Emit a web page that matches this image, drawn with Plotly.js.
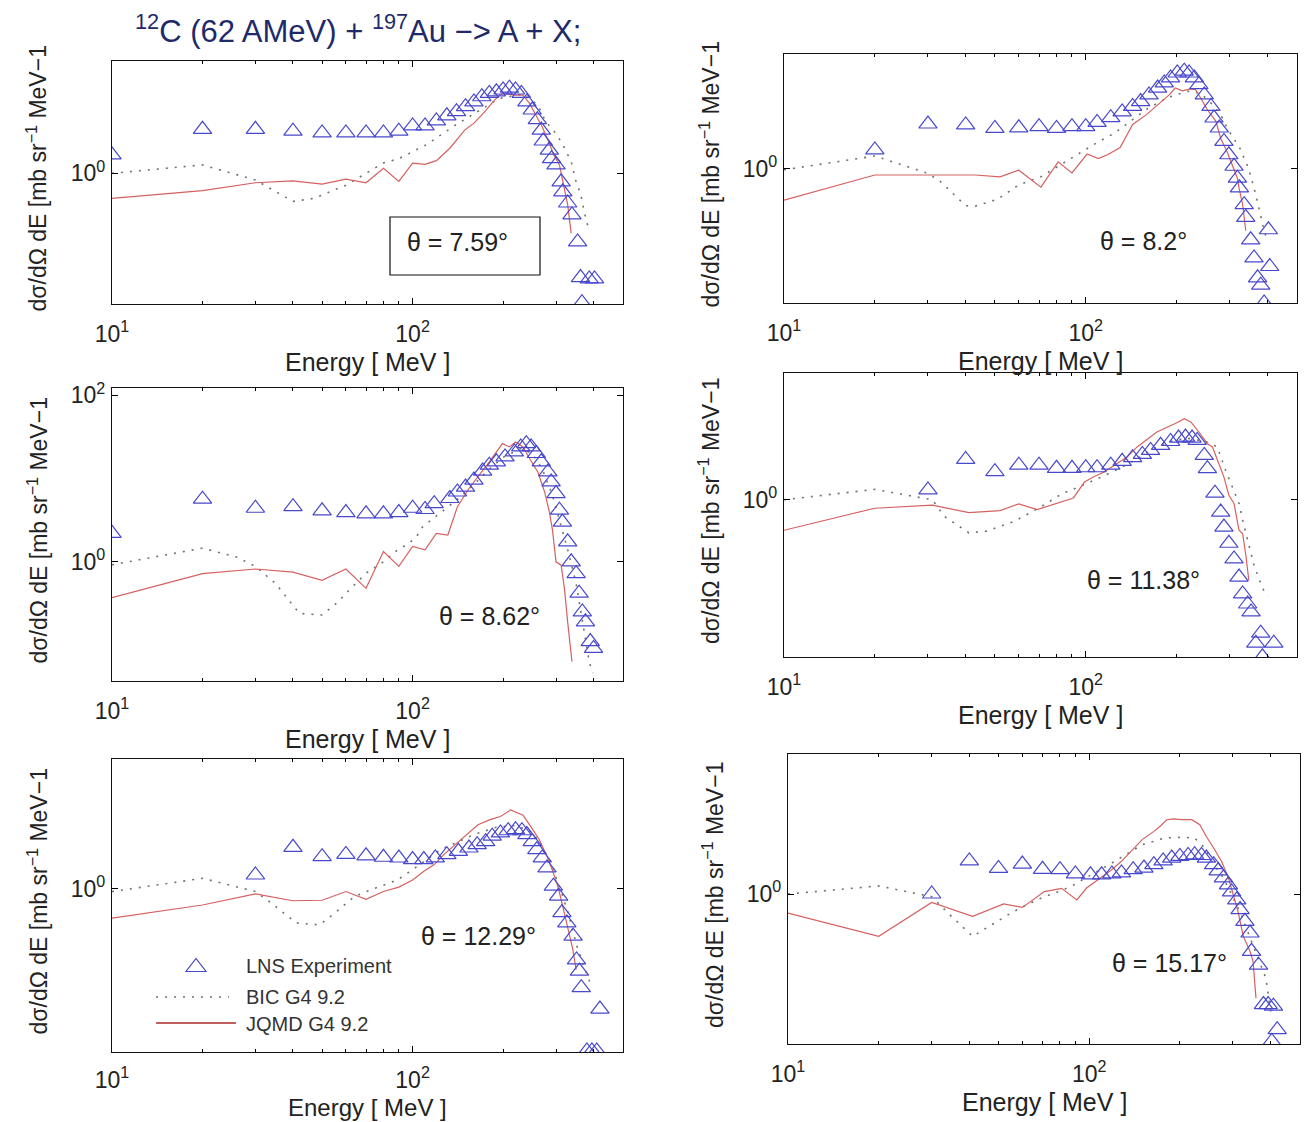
<!DOCTYPE html>
<html>
<head>
<meta charset="utf-8">
<script src="https://cdn.plot.ly/plotly-3.0.1.min.js"></script>
<style>html,body{margin:0;padding:0;background:#fff;}#chart{width:1306px;height:1122px;}</style>
</head>
<body>
<div id="chart"></div>
<script>
// ---------------- DATA ----------------
// Panel 1 : theta = 7.59 deg
const p1ExpE = [10,20,30,40,50,60,70,80,90,100,110,120,130,140,150,160,170,180,190,200,210,220,230,240,250,260,268,272,285,290,300,312,316,328,339,354,362,366,387,403];
const p1Exp  = [1.66,3.37,3.37,3.2,3.05,3.05,3.05,3.05,3.2,3.7,3.7,4.25,4.9,5.5,6.3,7.2,8.3,9.1,9.5,10.0,10.5,10.0,9.1,7.2,5.75,4.4,3.3,2.44,1.9,1.5,1.26,0.79,0.6,0.44,0.316,0.15,0.056,0.028,0.054,0.054];
const p1BicE = [10,20,30,40,47,60,70,80,90,111,139,171,194,233,261,277,300,316,337,350,363,372,387];
const p1Bic  = [1.0,1.26,0.83,0.46,0.5,0.72,1.0,1.33,1.5,2.2,3.8,6.0,7.9,8.9,6.6,4.2,3.0,2.2,1.38,0.79,0.55,0.35,0.2];
const p1JqmdE = [10,20,30,40,50,60,70,80,90,100,110,120,133,149,160,174,185,195,201,218,233,245,257,270,285,295,308,320,328,337];
const p1Jqmd  = [0.5,0.62,0.77,0.81,0.74,0.85,0.77,1.15,0.8,1.32,1.28,1.42,2.0,3.3,4.0,5.5,7.2,8.7,9.1,8.7,8.7,6.9,5.0,3.6,2.3,1.66,1.26,0.66,0.42,0.19];

// Panel 2 : theta = 8.2 deg
const p2ExpE = [20,30,40,50,60,70,80,90,100,109,121,132,143,152,162,173,182,191,201,212,220,229,237,247,260,266,277,287,298,310,318,323,335,339,352,361,371,380,390,403,407];
const p2Exp  = [1.68,3.44,3.35,3.05,3.1,3.2,3.05,3.2,3.2,3.6,4.1,4.8,5.6,6.4,7.7,9.3,10.7,12.3,14.1,14.8,14.1,12.3,10.2,7.7,5.6,4.06,3.08,2.13,1.47,1.07,0.77,0.59,0.37,0.26,0.14,0.085,0.049,0.04,0.0245,0.185,0.067];
const p2BicE = [10,20,30,33,40,43,51,60,71,81,90,106,125,158,186,217,240,263,280,294,310,324,346,366,386,398];
const p2Bic  = [0.97,1.42,0.88,0.7,0.36,0.355,0.43,0.64,0.8,1.06,1.35,1.94,2.7,5.1,7.1,8.5,8.1,5.9,4.46,3.08,2.3,1.77,1.02,0.49,0.21,0.14];
const p2JqmdE = [10,20,30,43,52,60,71,81,90,101,110,118,130,143,159,177,189,198,209,222,231,240,253,270,280,294,306,318,322,331,339];
const p2Jqmd  = [0.42,0.84,0.84,0.84,0.8,0.96,0.6,1.21,0.89,1.5,1.32,1.47,1.8,3.4,4.46,6.2,7.7,9.3,8.6,9.1,8.9,7.1,5.1,3.7,2.3,1.6,1.12,0.77,0.59,0.37,0.18];

// Panel 3 : theta = 8.62 deg
const p3ExpE = [10,20,30,40,50,60,70,80,90,100,110,118,133,141,150,160,171,180,190,203,218,229,239,248,258,268,282,289,300,308,315,328,337,350,358,367,376,390,400];
const p3Exp  = [2.2,5.66,4.4,4.6,4.1,3.9,3.77,3.77,3.9,4.4,4.25,5.0,5.76,6.9,7.9,9.6,12.3,14.5,15.9,18.2,20.9,24,26.3,24,20,15.9,12,9.1,6.6,4.17,3.0,1.74,1.0,0.72,0.42,0.25,0.19,0.11,0.091];
const p3BicE = [10,20,26,30,35,42,50,56,63,70,80,89,97,103,108,115,123,140,160,180,200,230,250,270,292,310,330,350,363,372,387,397];
const p3Bic  = [0.92,1.46,1.14,0.88,0.55,0.24,0.23,0.32,0.5,0.73,1.0,1.38,1.66,2.0,2.63,3.16,3.8,5.5,8.5,13,18,23,20,13,6.3,3.0,1.3,0.55,0.25,0.145,0.063,0.046];
const p3JqmdE = [10,20,30,40,50,60,70,80,90,100,110,120,131,141,154,167,180,199,210,220,233,245,261,275,285,292,300,312,320,328,339];
const p3Jqmd  = [0.37,0.72,0.82,0.75,0.6,0.82,0.48,1.33,0.88,1.53,1.39,2.2,2.1,4.6,7.6,11,15.9,26.3,24,27.5,24,17.4,12,6.9,4.0,2.4,1.0,0.91,0.48,0.19,0.063];

// Panel 4 : theta = 11.38 deg
const p4ExpE = [30,40,50,60,70,80,90,100,109,121,132,143,154,164,177,191,203,214,225,234,247,253,268,280,287,298,310,322,331,344,353,366,380,385,420];
const p4Exp  = [1.31,3.05,2.17,2.6,2.6,2.38,2.38,2.42,2.42,2.6,2.89,3.2,3.5,3.9,4.5,5.0,5.5,5.65,5.5,5.15,3.4,2.36,1.2,0.71,0.47,0.3,0.195,0.118,0.074,0.056,0.045,0.019,0.025,0.013,0.019];
const p4BicE = [10,20,31,34,41,47,58,71,84,92,110,130,150,170,190,215,250,273,290,310,322,333,347,360,380,398];
const p4Bic  = [1.0,1.33,1.0,0.63,0.4,0.42,0.55,0.82,1.2,1.36,1.8,2.4,3.2,4.2,5.0,5.5,5.0,4.3,2.3,1.3,0.9,0.52,0.3,0.17,0.098,0.068];
const p4JqmdE = [10,20,31,41,52,60,69,82,91,99,106,115,125,137,148,160,172,186,198,212,223,237,253,263,277,287,298,310,322,331,339,347];
const p4Jqmd  = [0.43,0.79,0.86,0.7,0.74,0.89,0.76,0.94,1.05,1.63,1.87,2.15,2.6,3.25,4.3,5.4,6.5,7.4,8.2,9.4,8.6,6.5,4.7,4.3,2.7,1.87,1.13,0.9,0.43,0.39,0.22,0.108];

// Panel 5 : theta = 12.29 deg
const p5ExpE = [30,40,50,60,70,80,90,100,109,119,130,142,154,164,175,184,196,208,220,231,240,250,259,270,280,294,306,314,326,342,351,359,364,380,395,410,420];
const p5Exp  = [1.47,3.16,2.44,2.6,2.5,2.4,2.35,2.25,2.25,2.36,2.58,2.83,3.1,3.4,3.7,4.3,4.7,5.0,5.15,5.0,4.5,3.7,2.96,2.36,1.79,1.08,0.82,0.52,0.39,0.27,0.14,0.103,0.065,0.0113,0.0113,0.0113,0.036];
const p5BicE = [10,20,30,34,41,49,55,64,74,89,100,124,160,190,220,250,270,290,310,330,350,370,390];
const p5Bic  = [0.93,1.34,0.93,0.67,0.39,0.37,0.51,0.81,1.0,1.28,1.7,2.96,4.5,5.5,5.8,4.8,3.2,1.9,1.0,0.5,0.22,0.12,0.074];
const p5JqmdE = [10,20,30,40,50,60,70,80,90,100,109,118,127,141,154,165,181,196,212,222,233,249,264,280,294,306,318,331,341,350];
const p5Jqmd  = [0.445,0.64,0.87,0.72,0.73,0.93,0.75,0.93,1.05,1.28,1.63,1.96,2.58,3.56,4.7,5.9,6.8,7.4,8.9,8.3,7.7,5.4,3.9,2.47,1.56,1.0,0.56,0.32,0.19,0.107];

// Panel 6 : theta = 15.17 deg
const p6ExpE = [30,40,50,60,70,80,90,101,110,119,128,140,152,164,176,188,200,213,224,236,245,259,268,279,290,297,309,317,329,342,346,365,379,393,404,409,421];
const p6Exp  = [1.0,2.5,2.03,2.29,1.98,1.96,1.74,1.7,1.7,1.74,1.79,1.96,2.05,2.25,2.5,2.7,2.83,2.9,2.96,2.9,2.7,2.25,1.9,1.56,1.29,1.06,0.85,0.65,0.47,0.34,0.205,0.14,0.047,0.047,0.017,0.045,0.0235];
const p6BicE = [10,20,30,34,41,46,55,61,71,81,89,119,150,178,203,224,242,259,275,290,320,342,386,404];
const p6Bic  = [1.0,1.25,0.93,0.59,0.31,0.4,0.59,0.72,0.93,1.1,1.29,2.36,3.9,4.7,4.8,4.7,3.57,2.25,1.7,1.18,0.56,0.3,0.098,0.032];
const p6JqmdE = [10,20,30,41,52,60,71,81,91,98,107,117,128,139,150,164,172,181,191,203,219,233,245,259,275,290,301,312,325,342,350,358];
const p6Jqmd  = [0.59,0.31,0.79,0.54,0.76,0.69,1.07,1.17,0.85,1.18,1.48,1.87,2.47,3.4,4.5,5.65,6.5,7.8,8.0,7.8,7.8,6.8,4.9,3.57,2.47,1.56,1.0,0.62,0.31,0.205,0.155,0.056];

const thetaLabels = ['θ = 7.59°','θ = 8.2°','θ = 8.62°','θ = 11.38°','θ = 12.29°','θ = 15.17°'];
const xTickVals = [10,100];
const xTickText = ['10<sup>1</sup>','10<sup>2</sup>'];
const xMinorVals = [20,30,40,50,60,70,80,90,200,300,400];
const legendNames = ['LNS Experiment','BIC G4 9.2','JQMD G4 9.2'];
const titleText = '<sup>12</sup>C (62 AMeV) + <sup>197</sup>Au −> A + X;';
const xTitle = 'Energy [ MeV ]';
const yTitle = 'dσ/dΩ dE [mb sr<sup>−1</sup> MeV−1';

// ---------------- LAYOUT GEOMETRY (pixels) ----------------
const W = 1306, H = 1122;
const FONT = 'Liberation Sans, Arial, Helvetica, sans-serif';
const px = x => x / W;
const py = y => 1 - y / H;

const panels = [
  {E:p1ExpE, v:p1Exp, bE:p1BicE, b:p1Bic, jE:p1JqmdE, j:p1Jqmd, box:[112,623,61,304],  yr:[-1.569,1.348], yt:[1],     tpos:[458,242],  xt:362,  xs:25},
  {E:p2ExpE, v:p2Exp, bE:p2BicE, b:p2Bic, jE:p2JqmdE, j:p2Jqmd, box:[784,1297,54,303], yr:[-1.612,1.377], yt:[1],     tpos:[1143,241], xt:361,  xs:25},
  {E:p3ExpE, v:p3Exp, bE:p3BicE, b:p3Bic, jE:p3JqmdE, j:p3Jqmd, box:[112,623,388,681], yr:[-1.432,2.088], yt:[1,100], tpos:[489,616],  xt:739,  xs:25},
  {E:p4ExpE, v:p4Exp, bE:p4BicE, b:p4Bic, jE:p4JqmdE, j:p4Jqmd, box:[784,1297,373,657],yr:[-1.888,1.521], yt:[1],     tpos:[1143,580], xt:715,  xs:25},
  {E:p5ExpE, v:p5Exp, bE:p5BicE, b:p5Bic, jE:p5JqmdE, j:p5Jqmd, box:[112,623,759,1052],yr:[-1.960,1.561], yt:[1],     tpos:[478,936],  xt:1107, xs:24},
  {E:p6ExpE, v:p6Exp, bE:p6BicE, b:p6Bic, jE:p6JqmdE, j:p6Jqmd, box:[788,1300,754,1044],yr:[-1.801,1.681], yt:[1],     tpos:[1169,963], xt:1102, xs:25}
];

const traces = [];
const layout = {
  width: W, height: H,
  margin: {l:0, r:0, t:0, b:0, pad:0},
  paper_bgcolor: '#fff', plot_bgcolor: '#fff',
  showlegend: false,
  font: {family: FONT, color: '#222'},
  annotations: [], shapes: []
};

panels.forEach((p, i) => {
  const k = i + 1;
  const xs = k === 1 ? 'x' : 'x' + k;
  const ys = k === 1 ? 'y' : 'y' + k;
  const [l, r, t, b] = p.box;
  layout[k === 1 ? 'xaxis' : 'xaxis' + k] = {
    type: 'log', range: [1, 2.7], domain: [px(l), px(r)], anchor: ys,
    tickvals: xTickVals, ticktext: xTickText,
    ticks: 'inside', ticklen: 6, tickwidth: 1, tickcolor: '#000',
    showline: true, linecolor: '#111', linewidth: 1.2, mirror: 'ticks',
    showgrid: false, zeroline: false,
    tickfont: {family: FONT, size: 23, color: '#222'},
    ticklabelstandoff: k === 5 ? 7 : 9,
    minor: {tickvals: xMinorVals, ticks: 'inside', ticklen: 3, tickcolor: '#000', showgrid: false}
  };
  layout[k === 1 ? 'yaxis' : 'yaxis' + k] = {
    type: 'log', range: p.yr, domain: [py(b), py(t)], anchor: xs,
    tickvals: p.yt, ticktext: p.yt.map(v => '10<sup>' + Math.round(Math.log10(v)) + '</sup>'),
    ticks: 'inside', ticklen: 6, tickwidth: 1, tickcolor: '#000',
    showline: true, linecolor: '#111', linewidth: 1.2, mirror: 'ticks',
    showgrid: false, zeroline: false,
    tickfont: {family: FONT, size: 23, color: '#222'},
    ticklabelstandoff: 1
  };
  traces.push({type:'scatter', mode:'lines', x:p.bE, y:p.b, xaxis:xs, yaxis:ys, name:legendNames[1],
    line:{color:'rgb(110,115,110)', width:1.6, dash:'2px,7px'}});
  traces.push({type:'scatter', mode:'lines', x:p.jE, y:p.j, xaxis:xs, yaxis:ys, name:legendNames[2],
    line:{color:'rgb(214,96,96)', width:1.2}});
  traces.push({type:'scatter', mode:'markers', x:p.E, y:p.v, xaxis:xs, yaxis:ys, name:legendNames[0],
    marker:{symbol:'triangle-up-open', size:16, color:'rgb(72,72,205)', line:{width:1.2, color:'rgb(72,72,205)'}}});

  // axis titles
  layout.annotations.push({xref:'paper', yref:'paper', x:px((l + r) / 2), y:py(p.xt),
    text:xTitle, showarrow:false, xanchor:'center', yanchor:'middle', font:{family:FONT, size:p.xs, color:'#222'}});
  layout.annotations.push({xref:'paper', yref:'paper', x:px(l - 75), y:py((t + b) / 2 - 4),
    text:yTitle, textangle:-90, showarrow:false, xanchor:'center', yanchor:'middle', font:{family:FONT, size:23, color:'#222'}});
  // theta label
  layout.annotations.push({xref:'paper', yref:'paper', x:px(p.tpos[0]), y:py(p.tpos[1]),
    text:thetaLabels[i], showarrow:false, xanchor:'center', yanchor:'middle', font:{family:FONT, size:25, color:'#222'}});
});

// boxed theta label of panel 1
layout.shapes.push({type:'rect', xref:'paper', yref:'paper', x0:px(390), x1:px(540), y0:py(275), y1:py(217),
  line:{color:'#111', width:1.2}, fillcolor:'rgba(0,0,0,0)'});

// main title
layout.annotations.push({xref:'paper', yref:'paper', x:px(358), y:py(29), text:titleText, showarrow:false,
  xanchor:'center', yanchor:'middle', font:{family:FONT, size:31, color:'#1e2a6a'}});

// legend inside panel 5 (drawn manually)
const tri = [[186,971.5],[206,971.5],[196,958.5]];
layout.shapes.push({type:'path', xref:'paper', yref:'paper',
  path:'M ' + tri.map(q => px(q[0]) + ',' + py(q[1])).join(' L ') + ' Z',
  line:{color:'rgb(72,72,205)', width:1.2}, fillcolor:'rgba(0,0,0,0)'});
layout.shapes.push({type:'line', xref:'paper', yref:'paper', x0:px(156), x1:px(229), y0:py(997), y1:py(997),
  line:{color:'rgb(100,120,100)', width:1.6, dash:'2px,7px'}});
layout.shapes.push({type:'line', xref:'paper', yref:'paper', x0:px(156), x1:px(236), y0:py(1023), y1:py(1023),
  line:{color:'rgb(170,40,40)', width:1.5}});
[[966, legendNames[0]], [997, legendNames[1]], [1024, legendNames[2]]].forEach(([yy, txt]) => {
  layout.annotations.push({xref:'paper', yref:'paper', x:px(244), y:py(yy), text:txt, showarrow:false,
    xanchor:'left', yanchor:'middle', font:{family:FONT, size:20, color:'#333'}});
});

Plotly.newPlot('chart', traces, layout, {staticPlot:true, displayModeBar:false});
</script>
</body>
</html>
